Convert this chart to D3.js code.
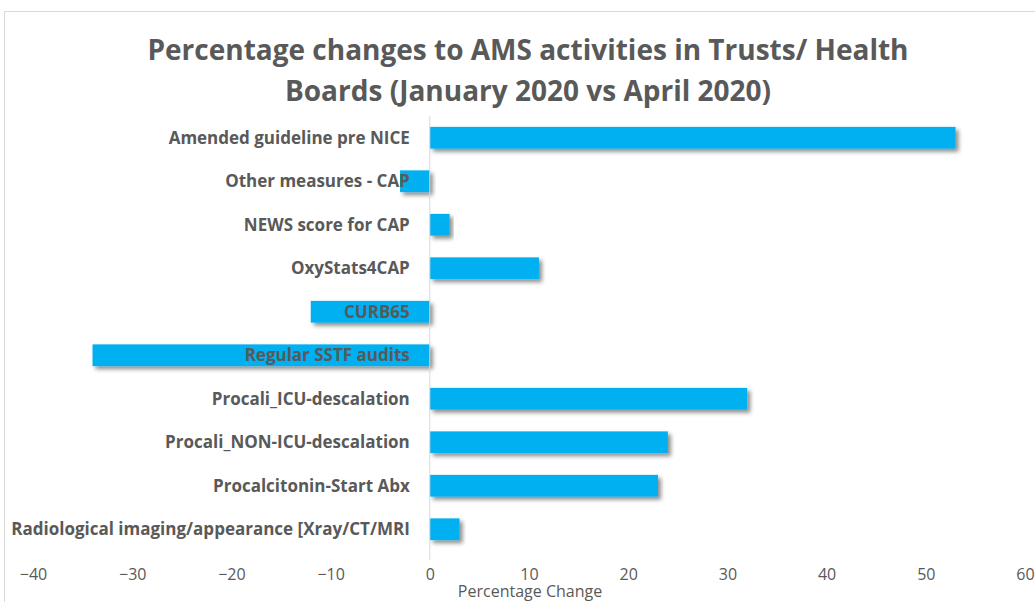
<!DOCTYPE html>
<html>
<head>
<meta charset="utf-8">
<script src="https://cdn.jsdelivr.net/npm/d3@7"></script>
<style>
  body { margin: 0; background: #fff; }
  svg { display: block; }
</style>
</head>
<body>
<div id="chart"></div>
<script>
// activities, top to bottom as shown
const categories = [
  "Amended guideline pre NICE",
  "Other measures - CAP",
  "NEWS score for CAP",
  "OxyStats4CAP",
  "CURB65",
  "Regular SSTF audits",
  "Procali_ICU-descalation",
  "Procali_NON-ICU-descalation",
  "Procalcitonin-Start Abx",
  "Radiological imaging/appearance [Xray/CT/MRI"
];
const changes = [53, -3, 2, 11, -12, -34, 32, 24, 23, 3];
const xTicks = [-40, -30, -20, -10, 0, 10, 20, 30, 40, 50, 60];

const width = 1035, height = 602;
const grey = "#595959";
const font = "'Open Sans', Lato, sans-serif";

const svg = d3.select("#chart").append("svg")
  .attr("width", width)
  .attr("height", height);

// drop shadow for bars
const defs = svg.append("defs");
const f = defs.append("filter").attr("id", "shadow")
  .attr("x", "-10%").attr("y", "-30%").attr("width", "130%").attr("height", "190%");
f.append("feDropShadow")
  .attr("dx", 3).attr("dy", 3).attr("stdDeviation", 2)
  .attr("flood-color", "#000").attr("flood-opacity", 0.45);

// chart border
svg.append("path")
  .attr("d", `M4.5,${height} V11.5 H${width}`)
  .attr("fill", "none")
  .attr("stroke", "#d9d9d9");

const x = d3.scaleLinear().domain([-40, 60]).range([33, 1025]);
const y = d3.scaleBand().domain(categories).range([116, 551]).paddingInner(0.5).paddingOuter(0.25);

// title
const title = svg.append("text")
  .attr("text-anchor", "middle")
  .attr("font-family", font)
  .attr("font-weight", "bold")
  .attr("font-size", "28px")
  .attr("fill", grey);
title.append("tspan").attr("x", 528).attr("y", 60).text("Percentage changes to AMS activities in Trusts/ Health");
title.append("tspan").attr("x", 528).attr("y", 101).text("Boards (January 2020 vs April 2020)");

// bars
svg.selectAll("rect.bar")
  .data(categories)
  .enter()
  .append("rect")
  .attr("class", "bar")
  .attr("x", (d, i) => x(Math.min(0, changes[i])))
  .attr("y", d => y(d))
  .attr("width", (d, i) => Math.abs(x(changes[i]) - x(0)))
  .attr("height", y.bandwidth())
  .attr("fill", "#00B0F0")
  .attr("filter", "url(#shadow)");

// zero line
svg.append("line")
  .attr("x1", x(0)).attr("x2", x(0))
  .attr("y1", 116).attr("y2", 560)
  .attr("stroke", "#d9d9d9");

// category labels
svg.selectAll("text.cat")
  .data(categories)
  .enter()
  .append("text")
  .attr("class", "cat")
  .attr("x", x(0) - 20)
  .attr("y", d => y(d) + y.bandwidth() / 2)
  .attr("dy", "0.35em")
  .attr("text-anchor", "end")
  .attr("font-family", font)
  .attr("font-weight", "bold")
  .attr("font-size", "17px")
  .attr("fill", grey)
  .text(d => d);

// x axis
const xAxis = svg.append("g")
  .attr("transform", "translate(0,580)")
  .call(d3.axisBottom(x).tickValues(xTicks).tickSize(0).tickPadding(0).tickFormat(d => d < 0 ? "\u2212" + Math.abs(d) : d));
xAxis.select(".domain").remove();
xAxis.selectAll("text")
  .attr("dy", 0)
  .attr("font-family", font)
  .attr("font-size", "16px")
  .attr("fill", grey);

svg.append("text")
  .attr("x", 530)
  .attr("y", 597)
  .attr("text-anchor", "middle")
  .attr("font-family", font)
  .attr("font-size", "16px")
  .attr("fill", grey)
  .text("Percentage Change");
</script>
</body>
</html>
